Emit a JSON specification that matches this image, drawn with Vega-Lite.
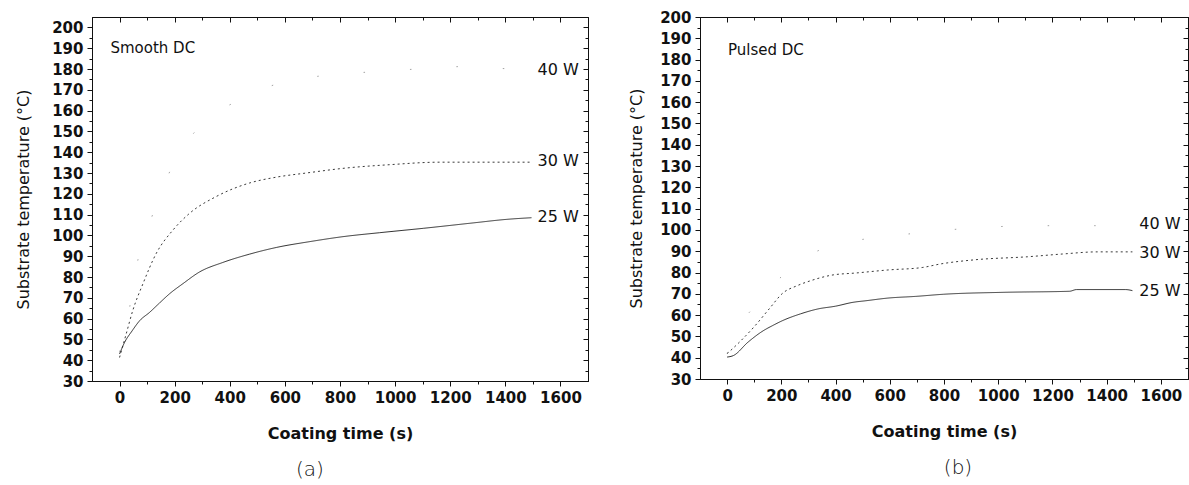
{
  "$schema": "https://vega.github.io/schema/vega-lite/v6.json",
  "background": "white",
  "padding": {"left": 15, "top": 9, "right": 3, "bottom": 5},
  "bounds": "flush",
  "spacing": 112,
  "config": {
    "view": {"stroke": "#111", "strokeWidth": 1},
    "font": "DejaVu Sans",
    "axis": {"grid": false, "domainColor": "#111", "tickColor": "#111", "labelColor": "#111", "titleColor": "#111", "labelFont": "DejaVu Sans", "titleFont": "DejaVu Sans"},
    "title": {"font": "DejaVu Sans", "color": "#111"}
  },
  "datasets": {
    "smooth": [
      {"series": "25 W", "t": 0, "temp": 43}, {"series": "25 W", "t": 18, "temp": 48.5}, {"series": "25 W", "t": 45, "temp": 54}, {"series": "25 W", "t": 73, "temp": 59}, {"series": "25 W", "t": 109, "temp": 63}, {"series": "25 W", "t": 145, "temp": 67.5}, {"series": "25 W", "t": 182, "temp": 72}, {"series": "25 W", "t": 230, "temp": 76.8}, {"series": "25 W", "t": 290, "temp": 82.4}, {"series": "25 W", "t": 375, "temp": 87}, {"series": "25 W", "t": 472, "temp": 91}, {"series": "25 W", "t": 569, "temp": 94.2}, {"series": "25 W", "t": 690, "temp": 97}, {"series": "25 W", "t": 811, "temp": 99.4}, {"series": "25 W", "t": 944, "temp": 101.3}, {"series": "25 W", "t": 1102, "temp": 103.4}, {"series": "25 W", "t": 1283, "temp": 106}, {"series": "25 W", "t": 1404, "temp": 107.7}, {"series": "25 W", "t": 1495, "temp": 108.5},
      {"series": "30 W", "t": 0, "temp": 41.3}, {"series": "30 W", "t": 24, "temp": 52.6}, {"series": "30 W", "t": 48, "temp": 63.9}, {"series": "30 W", "t": 85, "temp": 76.8}, {"series": "30 W", "t": 133, "temp": 91.3}, {"series": "30 W", "t": 194, "temp": 102.6}, {"series": "30 W", "t": 254, "temp": 110.6}, {"series": "30 W", "t": 351, "temp": 118.7}, {"series": "30 W", "t": 472, "temp": 125.2}, {"series": "30 W", "t": 569, "temp": 128}, {"series": "30 W", "t": 678, "temp": 130}, {"series": "30 W", "t": 823, "temp": 132.4}, {"series": "30 W", "t": 981, "temp": 134}, {"series": "30 W", "t": 1162, "temp": 135.2}, {"series": "30 W", "t": 1344, "temp": 135.2}, {"series": "30 W", "t": 1489, "temp": 135.2},
      {"series": "40 W", "t": 0, "temp": 44}, {"series": "40 W", "t": 36, "temp": 65}, {"series": "40 W", "t": 60, "temp": 84}, {"series": "40 W", "t": 120, "temp": 110}, {"series": "40 W", "t": 180, "temp": 130}, {"series": "40 W", "t": 254, "temp": 146.6}, {"series": "40 W", "t": 339, "temp": 157.7}, {"series": "40 W", "t": 450, "temp": 166}, {"series": "40 W", "t": 559, "temp": 172.3}, {"series": "40 W", "t": 720, "temp": 176.5}, {"series": "40 W", "t": 900, "temp": 178.5}, {"series": "40 W", "t": 1083, "temp": 180}, {"series": "40 W", "t": 1281, "temp": 181.3}, {"series": "40 W", "t": 1374, "temp": 180.3}, {"series": "40 W", "t": 1490, "temp": 180}
    ],
    "pulsed": [
      {"series": "25 W", "t": 0, "temp": 40.3}, {"series": "25 W", "t": 23, "temp": 41}, {"series": "25 W", "t": 77, "temp": 47.3}, {"series": "25 W", "t": 135, "temp": 52.8}, {"series": "25 W", "t": 168, "temp": 55.1}, {"series": "25 W", "t": 206, "temp": 57.5}, {"series": "25 W", "t": 271, "temp": 60.6}, {"series": "25 W", "t": 335, "temp": 62.9}, {"series": "25 W", "t": 400, "temp": 64.2}, {"series": "25 W", "t": 464, "temp": 66}, {"series": "25 W", "t": 515, "temp": 66.8}, {"series": "25 W", "t": 593, "temp": 68}, {"series": "25 W", "t": 696, "temp": 68.8}, {"series": "25 W", "t": 799, "temp": 69.8}, {"series": "25 W", "t": 1018, "temp": 70.7}, {"series": "25 W", "t": 1263, "temp": 71.2}, {"series": "25 W", "t": 1289, "temp": 72}, {"series": "25 W", "t": 1469, "temp": 72}, {"series": "25 W", "t": 1495, "temp": 71.5},
      {"series": "30 W", "t": 0, "temp": 41.9}, {"series": "30 W", "t": 39, "temp": 46.5}, {"series": "30 W", "t": 103, "temp": 55}, {"series": "30 W", "t": 155, "temp": 62.9}, {"series": "30 W", "t": 206, "temp": 70.4}, {"series": "30 W", "t": 258, "temp": 73.8}, {"series": "30 W", "t": 309, "temp": 76.2}, {"series": "30 W", "t": 387, "temp": 78.8}, {"series": "30 W", "t": 477, "temp": 79.8}, {"series": "30 W", "t": 593, "temp": 81.2}, {"series": "30 W", "t": 722, "temp": 82.4}, {"series": "30 W", "t": 786, "temp": 84}, {"series": "30 W", "t": 915, "temp": 86}, {"series": "30 W", "t": 1108, "temp": 87.4}, {"series": "30 W", "t": 1237, "temp": 88.7}, {"series": "30 W", "t": 1366, "temp": 89.7}, {"series": "30 W", "t": 1495, "temp": 89.7},
      {"series": "40 W", "t": 0, "temp": 42}, {"series": "40 W", "t": 32, "temp": 52}, {"series": "40 W", "t": 100, "temp": 64}, {"series": "40 W", "t": 200, "temp": 78}, {"series": "40 W", "t": 300, "temp": 88}, {"series": "40 W", "t": 400, "temp": 93}, {"series": "40 W", "t": 600, "temp": 97}, {"series": "40 W", "t": 921, "temp": 101}, {"series": "40 W", "t": 1144, "temp": 102}, {"series": "40 W", "t": 1289, "temp": 102}, {"series": "40 W", "t": 1490, "temp": 102}
    ],
    "labels_a": [
      {"label": "40 W", "t": 1517, "temp": 179.7, "kind": "series"},
      {"label": "30 W", "t": 1517, "temp": 135.6, "kind": "series"},
      {"label": "25 W", "t": 1517, "temp": 109, "kind": "series"},
      {"label": "Smooth DC", "t": -33, "temp": 190, "kind": "mode"}
    ],
    "labels_b": [
      {"label": "40 W", "t": 1520, "temp": 102.7, "kind": "series"},
      {"label": "30 W", "t": 1520, "temp": 89.4, "kind": "series"},
      {"label": "25 W", "t": 1520, "temp": 71.5, "kind": "series"},
      {"label": "Pulsed DC", "t": 3, "temp": 184.5, "kind": "mode"}
    ]
  },
  "hconcat": [
    {
      "width": 496,
      "height": 364,
      "title": {"text": "(a)", "orient": "bottom", "fontSize": 20, "fontWeight": 300, "dx": -30, "offset": 19},
      "resolve": {"axis": {"x": "independent", "y": "independent"}},
      "layer": [
        {
          "data": {"name": "smooth"},
          "mark": {"type": "line", "strokeWidth": 0.9, "interpolate": "monotone"},
          "encoding": {
            "x": {"field": "t", "type": "quantitative", "scale": {"domain": [-100, 1700], "nice": false, "zero": false},
              "axis": {"orient": "bottom", "title": "Coating time (s)", "values": [0,100,200,300,400,500,600,700,800,900,1000,1100,1200,1300,1400,1500,1600],
                "labelExpr": "datum.value % 200 === 0 ? datum.label : ''", "format": "d",
                "tickSize": {"condition": {"test": "datum.value % 200 === 0", "value": 5}, "value": 3},
                "labelFontSize": 15, "labelFontWeight": "bold", "labelPadding": 4, "titleFontSize": 16, "titleFontWeight": "bold", "titlePadding": 20}},
            "y": {"field": "temp", "type": "quantitative", "scale": {"domain": [30, 205], "nice": false, "zero": false},
              "axis": {"orient": "left", "title": "Substrate temperature (°C)", "values": [30,35,40,45,50,55,60,65,70,75,80,85,90,95,100,105,110,115,120,125,130,135,140,145,150,155,160,165,170,175,180,185,190,195,200],
                "labelExpr": "datum.value % 10 === 0 ? datum.label : ''",
                "tickSize": {"condition": {"test": "datum.value % 10 === 0", "value": 5}, "value": 3},
                "labelFontSize": 15, "labelFontWeight": "bold", "labelPadding": 4, "titleFontSize": 16, "titleFontWeight": "normal", "titlePadding": 20}},
            "color": {"field": "series", "type": "nominal", "scale": {"domain": ["25 W", "30 W", "40 W"], "range": ["#1a1a1a", "#222222", "#999999"]}, "legend": null},
            "strokeDash": {"field": "series", "type": "nominal", "scale": {"domain": ["25 W", "30 W", "40 W"], "range": [[1, 0], [2, 3], [1.5, 45]]}, "legend": null}
          }
        },
        {
          "data": {"name": "labels_a"},
          "mark": {"type": "text", "align": "left", "baseline": "middle", "color": "#111"},
          "encoding": {
            "x": {"field": "t", "type": "quantitative", "scale": {"domain": [-100, 1700], "nice": false, "zero": false},
              "axis": {"orient": "top", "title": null, "labels": false, "values": [0,100,200,300,400,500,600,700,800,900,1000,1100,1200,1300,1400,1500,1600],
                "tickSize": {"condition": {"test": "datum.value % 200 === 0", "value": -5}, "value": -3}}},
            "y": {"field": "temp", "type": "quantitative", "scale": {"domain": [30, 205], "nice": false, "zero": false},
              "axis": {"orient": "right", "title": null, "labels": false, "values": [30,35,40,45,50,55,60,65,70,75,80,85,90,95,100,105,110,115,120,125,130,135,140,145,150,155,160,165,170,175,180,185,190,195,200],
                "tickSize": {"condition": {"test": "datum.value % 10 === 0", "value": -5}, "value": -3}}},
            "text": {"field": "label", "type": "nominal"},
            "size": {"field": "kind", "type": "nominal", "scale": {"domain": ["series", "mode"], "range": [16, 15]}, "legend": null}
          }
        }
      ]
    },
    {
      "width": 488,
      "height": 362,
      "title": {"text": "(b)", "orient": "bottom", "fontSize": 20, "fontWeight": 300, "dx": 14, "offset": 19},
      "resolve": {"axis": {"x": "independent", "y": "independent"}},
      "layer": [
        {
          "data": {"name": "pulsed"},
          "mark": {"type": "line", "strokeWidth": 0.9, "interpolate": "monotone"},
          "encoding": {
            "x": {"field": "t", "type": "quantitative", "scale": {"domain": [-100, 1700], "nice": false, "zero": false},
              "axis": {"orient": "bottom", "title": "Coating time (s)", "values": [0,100,200,300,400,500,600,700,800,900,1000,1100,1200,1300,1400,1500,1600],
                "labelExpr": "datum.value % 200 === 0 ? datum.label : ''", "format": "d",
                "tickSize": {"condition": {"test": "datum.value % 200 === 0", "value": 5}, "value": 3},
                "labelFontSize": 15, "labelFontWeight": "bold", "labelPadding": 4, "titleFontSize": 16, "titleFontWeight": "bold", "titlePadding": 20}},
            "y": {"field": "temp", "type": "quantitative", "scale": {"domain": [30, 200], "nice": false, "zero": false},
              "axis": {"orient": "left", "title": "Substrate temperature (°C)", "values": [30,35,40,45,50,55,60,65,70,75,80,85,90,95,100,105,110,115,120,125,130,135,140,145,150,155,160,165,170,175,180,185,190,195,200],
                "labelExpr": "datum.value % 10 === 0 ? datum.label : ''",
                "tickSize": {"condition": {"test": "datum.value % 10 === 0", "value": 5}, "value": 3},
                "labelFontSize": 15, "labelFontWeight": "bold", "labelPadding": 4, "titleFontSize": 16, "titleFontWeight": "normal", "titlePadding": 15}},
            "color": {"field": "series", "type": "nominal", "scale": {"domain": ["25 W", "30 W", "40 W"], "range": ["#1a1a1a", "#222222", "#999999"]}, "legend": null},
            "strokeDash": {"field": "series", "type": "nominal", "scale": {"domain": ["25 W", "30 W", "40 W"], "range": [[1, 0], [2, 3], [1.5, 45]]}, "legend": null}
          }
        },
        {
          "data": {"name": "labels_b"},
          "mark": {"type": "text", "align": "left", "baseline": "middle", "color": "#111"},
          "encoding": {
            "x": {"field": "t", "type": "quantitative", "scale": {"domain": [-100, 1700], "nice": false, "zero": false},
              "axis": {"orient": "top", "title": null, "labels": false, "values": [0,100,200,300,400,500,600,700,800,900,1000,1100,1200,1300,1400,1500,1600],
                "tickSize": {"condition": {"test": "datum.value % 200 === 0", "value": -5}, "value": -3}}},
            "y": {"field": "temp", "type": "quantitative", "scale": {"domain": [30, 200], "nice": false, "zero": false},
              "axis": {"orient": "right", "title": null, "labels": false, "values": [30,35,40,45,50,55,60,65,70,75,80,85,90,95,100,105,110,115,120,125,130,135,140,145,150,155,160,165,170,175,180,185,190,195,200],
                "tickSize": {"condition": {"test": "datum.value % 10 === 0", "value": -5}, "value": -3}}},
            "text": {"field": "label", "type": "nominal"},
            "size": {"field": "kind", "type": "nominal", "scale": {"domain": ["series", "mode"], "range": [16, 15]}, "legend": null}
          }
        }
      ]
    }
  ]
}
